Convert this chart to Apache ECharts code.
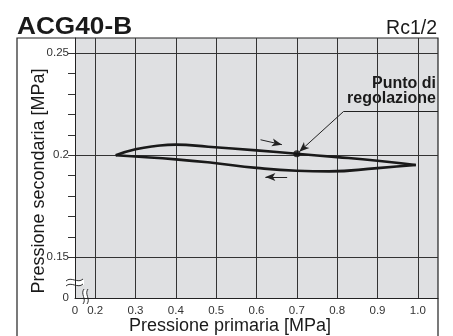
<!DOCTYPE html>
<html lang="it" style="height: 100%">

<head>
  <meta charset="utf-8">
  <title>ACG40-B</title>
</head>

<body style="height: 100%; margin: 0; background: #fff">
  <div id="container" style="height: 336px; width: 453px;"></div>

  <script type="text/javascript" src="https://cdn.jsdelivr.net/npm/echarts@6.0.0/dist/echarts.min.js"></script>
  <script type="text/javascript">
    // curve values [primary MPa, secondary MPa]
    var upperCurve = [
      [0.251, 0.2], [0.3, 0.2029], [0.35, 0.2045], [0.4, 0.2052], [0.48, 0.2042],
      [0.6, 0.2024], [0.7, 0.2007], [0.8, 0.1991], [0.9, 0.1973], [0.995, 0.1952]
    ];
    var lowerCurve = [
      [0.251, 0.2], [0.3, 0.1994], [0.4, 0.198], [0.49, 0.1963], [0.6, 0.1938],
      [0.7, 0.1924], [0.78, 0.1921], [0.9, 0.1937], [0.995, 0.1952]
    ];
    var setPoint = [[0.7, 0.2007]];

    // axis ticks / labels
    var xGridValues = [0.2, 0.3, 0.4, 0.5, 0.6, 0.7, 0.8, 0.9, 1.0];
    var xLabelValues = [0.15, 0.2, 0.3, 0.4, 0.5, 0.6, 0.7, 0.8, 0.9, 1.0];
    var yTickValues = [0.15, 0.16, 0.17, 0.18, 0.19, 0.2, 0.21, 0.22, 0.23, 0.24, 0.25];
    var yGridValues = [0.15, 0.2, 0.25];
    var yLabelValues = [0.13, 0.15, 0.2, 0.25];

    // arrows on the plot [from, to]
    var arrowUp = [[0.610, 0.2076], [0.663, 0.2052]];
    var arrowDown = [[0.676, 0.1893], [0.622, 0.1893]];
    var leader = [[0.816, 0.2215], [0.706, 0.2017]];
    var underline = [[0.816, 0.2215], [1.05, 0.2215]];

    var dom = document.getElementById('container');
    var myChart = echarts.init(dom, null, { renderer: 'canvas' });

    var ink = '#222';
    var plotBg = '#dfe0e2';

    function arrowItem(p, withHead) {
      return [
        { coord: p[0], symbol: 'none' },
        { coord: p[1], symbol: withHead ? 'arrow' : 'none' }
      ];
    }

    var option = {
      animation: false,
      textStyle: { fontFamily: 'Liberation Sans, Arial, sans-serif' },
      grid: {
        left: 75, right: 15, top: 38, bottom: 38,
        show: true, backgroundColor: plotBg, borderWidth: 0
      },
      xAxis: {
        type: 'value', min: 0.15, max: 1.05,
        axisLine: { show: true, lineStyle: { color: ink, width: 1 } },
        axisTick: { show: false, customValues: xGridValues },
        splitLine: { show: true, lineStyle: { color: '#333', width: 1 } },
        axisLabel: {
          customValues: xLabelValues,
          fontSize: 11.5, color: '#333', margin: 7,
          formatter: function (v) {
            if (v < 0.16) return '0';
            return v.toFixed(1);
          }
        }
      },
      yAxis: [
        {
          type: 'value', min: 0.13, max: 0.2575,
          axisLine: { show: true, lineStyle: { color: ink, width: 1 } },
          axisTick: { show: true, length: 7, customValues: yTickValues, lineStyle: { color: '#333' } },
          splitLine: { show: false },
          axisLabel: {
            customValues: yLabelValues,
            fontSize: 11.5, color: '#333', margin: 6,
            formatter: function (v) {
              if (v < 0.14) return '0';
              if (Math.abs(v - 0.2) < 1e-6) return '0.2';
              return String(v);
            }
          }
        },
        {
          type: 'value', min: 0.13, max: 0.2575, position: 'left',
          axisLine: { show: false },
          axisTick: { show: false, customValues: yGridValues },
          axisLabel: { show: false },
          splitLine: { show: true, lineStyle: { color: '#333', width: 1 } }
        }
      ],
      series: [
        {
          name: 'upper', type: 'line', smooth: true, symbol: 'none',
          data: upperCurve,
          lineStyle: { color: '#1a1a1a', width: 2.6 },
          z: 3,
          markLine: {
            silent: true,
            symbolSize: [6, 10],
            label: { show: false },
            lineStyle: { color: ink, width: 1, type: 'solid' },
            data: [
              arrowItem(arrowUp, true),
              arrowItem(arrowDown, true),
              arrowItem(leader, true),
              arrowItem(underline, false)
            ]
          }
        },
        {
          name: 'lower', type: 'line', smooth: true, symbol: 'none',
          data: lowerCurve,
          lineStyle: { color: '#1a1a1a', width: 2.6 },
          z: 3
        },
        {
          name: 'setpoint', type: 'scatter', data: setPoint,
          symbolSize: 7, itemStyle: { color: '#111' }, z: 4
        }
      ],
      graphic: [
        // outer frame
        {
          type: 'polyline', silent: true,
          shape: { points: [[17, 336], [17, 38], [438, 38], [438, 336]] },
          style: { stroke: ink, lineWidth: 1.2, fill: null }
        },
        {
          type: 'text', x: 17, y: 28, scaleX: 1.14,
          style: {
            text: 'ACG40-B', font: 'bold 23px Liberation Sans, Arial', fill: '#1a1a1a',
            verticalAlign: 'middle'
          }
        },
        {
          type: 'text', x: 437, y: 29,
          style: {
            text: 'Rc1/2', font: '19.5px Liberation Sans, Arial', fill: '#1a1a1a',
            align: 'right', verticalAlign: 'middle'
          }
        },
        // axis names
        {
          type: 'text', x: 230, y: 326,
          style: {
            text: 'Pressione primaria [MPa]', font: '18px Liberation Sans, Arial',
            fill: '#1a1a1a', align: 'center', verticalAlign: 'middle'
          }
        },
        {
          type: 'text', x: 39, y: 181, rotation: Math.PI / 2,
          style: {
            text: 'Pressione secondaria [MPa]', font: '18px Liberation Sans, Arial',
            fill: '#1a1a1a', align: 'center', verticalAlign: 'middle'
          }
        },
        // annotation box
        {
          type: 'rect', silent: true,
          shape: { x: 342, y: 73, width: 95, height: 38 },
          style: { fill: plotBg }
        },
        {
          type: 'text', x: 436, y: 76,
          style: {
            text: 'Punto di\nregolazione', font: 'bold 16px Liberation Sans, Arial',
            fill: '#1a1a1a', align: 'right', verticalAlign: 'top', lineHeight: 15
          }
        },
        // y-axis break
        {
          type: 'rect', silent: true,
          shape: { x: 66, y: 280, width: 18, height: 5 },
          style: { fill: '#fff' }
        },
        {
          type: 'bezierCurve', silent: true,
          shape: { x1: 66, y1: 281, cpx1: 71, cpy1: 276, cpx2: 78, cpy2: 284, x2: 83, y2: 279 },
          style: { stroke: '#333', lineWidth: 1, fill: null }
        },
        {
          type: 'bezierCurve', silent: true,
          shape: { x1: 66, y1: 286, cpx1: 71, cpy1: 281, cpx2: 78, cpy2: 289, x2: 83, y2: 284 },
          style: { stroke: '#333', lineWidth: 1, fill: null }
        },
        // x-axis break
        {
          type: 'rect', silent: true,
          shape: { x: 83, y: 290, width: 4, height: 14 },
          style: { fill: '#fff' }
        },
        {
          type: 'bezierCurve', silent: true,
          shape: { x1: 84, y1: 289, cpx1: 80, cpy1: 294, cpx2: 87, cpy2: 299, x2: 83, y2: 304 },
          style: { stroke: '#333', lineWidth: 1, fill: null }
        },
        {
          type: 'bezierCurve', silent: true,
          shape: { x1: 88, y1: 289, cpx1: 84, cpy1: 294, cpx2: 91, cpy2: 299, x2: 87, y2: 304 },
          style: { stroke: '#333', lineWidth: 1, fill: null }
        }
      ]
    };

    myChart.setOption(option);
  </script>
</body>

</html>
